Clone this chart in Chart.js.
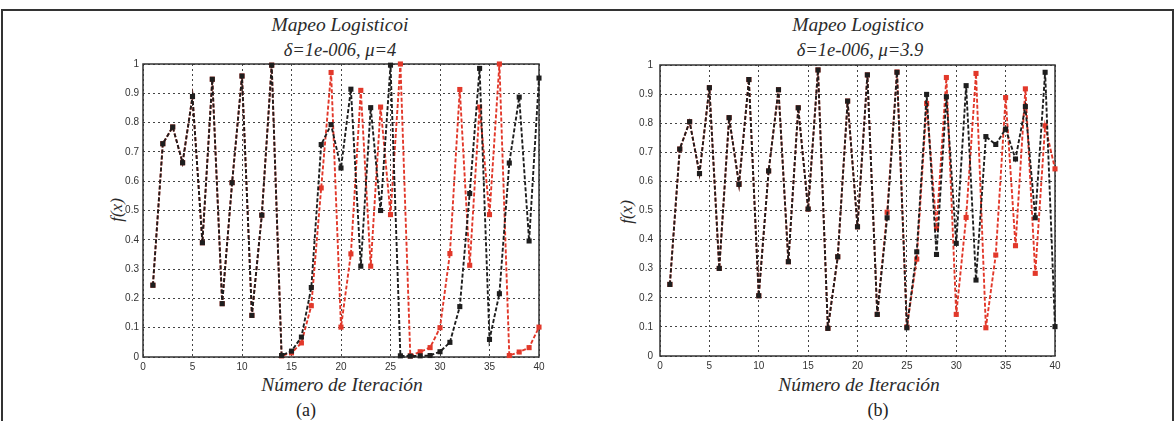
<!DOCTYPE html>
<html>
<head>
<meta charset="utf-8">
<script src="https://cdn.jsdelivr.net/npm/chart.js@4/dist/chart.umd.min.js"></script>
<style>
  html, body { margin: 0; padding: 0; background: #fff; }
  body { width: 1175px; height: 421px; position: relative; overflow: hidden; }
  .frame { position: absolute; left: 1px; top: 9px; width: 1169px; height: 410px; border: 2px solid #333; border-bottom-width: 1px; }
  .panel { position: absolute; top: 50px; width: 460px; height: 340px; }
  .txt { position: absolute; transform: translate(-50%, -50%); white-space: nowrap; color: #2b2b2b;
         font-family: 'Liberation Serif', 'DejaVu Serif', serif; }
  .ttl { font-style: italic; font-size: 19.5px; }
  .sub { font-style: italic; font-size: 18.5px; }
  .ylab { font-style: italic; font-size: 17px; transform: translate(-50%, -50%) rotate(-90deg); }
  .xlab { font-style: italic; font-size: 19.5px; }
  .tag { font-size: 18px; color: #222; }
</style>
</head>
<body>
<div class="frame"></div>

<div class="txt ttl" style="left:340px;top:25px">Mapeo Logisticoi</div>
<div class="txt sub" style="left:340px;top:50px">δ=1e-006, μ=4</div>
<div class="txt ttl" style="left:858px;top:25px">Mapeo Logistico</div>
<div class="txt sub" style="left:860px;top:50px">δ=1e-006, μ=3.9</div>

<div class="txt ylab" style="left:117px;top:210px">f(x)</div>
<div class="txt ylab" style="left:627px;top:212px">f(x)</div>

<div class="txt xlab" style="left:342px;top:385px">Número de Iteración</div>
<div class="txt xlab" style="left:859px;top:385px">Número de Iteración</div>
<div class="txt tag" style="left:306px;top:410px">(a)</div>
<div class="txt tag" style="left:878px;top:410px">(b)</div>

<div class="panel" style="left:100px"><canvas id="chart-a"></canvas></div>
<div class="panel" style="left:617px"><canvas id="chart-b"></canvas></div>

<script>
// ── Data ─────────────────────────────────────
const iterations = [1, 2, 3, 4, 5, 6, 7, 8, 9, 10, 11, 12, 13, 14, 15, 16, 17, 18, 19, 20,
                    21, 22, 23, 24, 25, 26, 27, 28, 29, 30, 31, 32, 33, 34, 35, 36, 37, 38, 39, 40];
const xTicks = [0, 5, 10, 15, 20, 25, 30, 35, 40];
const yTicks = [0, 0.1, 0.2, 0.3, 0.4, 0.5, 0.6, 0.7, 0.8, 0.9, 1];

// mu = 4
const mu4Black = [0.245, 0.728, 0.785, 0.663, 0.889, 0.39, 0.948, 0.182, 0.595, 0.959,
                  0.142, 0.484, 0.996, 0.005, 0.02, 0.068, 0.237, 0.725, 0.793, 0.645,
                  0.914, 0.31, 0.851, 0.50, 0.996, 0.004, 0.003, 0.004, 0.005, 0.018,
                  0.05, 0.172, 0.558, 0.985, 0.06, 0.216, 0.662, 0.887, 0.396, 0.952];
const mu4Red   = [0.245, 0.728, 0.785, 0.663, 0.889, 0.39, 0.948, 0.182, 0.595, 0.959,
                  0.142, 0.484, 0.996, 0.004, 0.014, 0.048, 0.175, 0.577, 0.971, 0.102,
                  0.352, 0.91, 0.31, 0.853, 0.486, 1.0, 0.004, 0.018, 0.032, 0.1,
                  0.353, 0.913, 0.313, 0.853, 0.486, 1.0, 0.005, 0.017, 0.032, 0.102];

// mu = 3.9
const mu39Black = [0.246, 0.711, 0.805, 0.627, 0.922, 0.301, 0.819, 0.59, 0.95, 0.207,
                   0.636, 0.915, 0.324, 0.853, 0.505, 0.983, 0.095, 0.341, 0.876, 0.444,
                   0.966, 0.143, 0.475, 0.975, 0.097, 0.358, 0.899, 0.349, 0.891, 0.387,
                   0.929, 0.261, 0.754, 0.727, 0.78, 0.677, 0.857, 0.475, 0.975, 0.101];
const mu39Red   = [0.246, 0.711, 0.805, 0.627, 0.922, 0.301, 0.819, 0.59, 0.95, 0.207,
                   0.636, 0.915, 0.324, 0.853, 0.505, 0.983, 0.095, 0.341, 0.876, 0.444,
                   0.966, 0.143, 0.494, 0.976, 0.1, 0.333, 0.868, 0.439, 0.957, 0.143,
                   0.476, 0.971, 0.097, 0.347, 0.888, 0.379, 0.918, 0.284, 0.791, 0.643];

const BLACK = '#1e1e1e';
const RED   = '#e2382a';

// ── Plot box (solid frame round the chart area) ──
const boxPlugin = {
  id: 'box',
  beforeDatasetsDraw(chart) {
    const a = chart.chartArea;
    const ctx = chart.ctx;
    ctx.save();
    ctx.strokeStyle = '#333';
    ctx.lineWidth = 1.5;
    ctx.strokeRect(a.left, a.top, a.right - a.left, a.bottom - a.top);
    ctx.restore();
  }
};

const series = (ys, color) => ({
  data: iterations.map((x, i) => ({ x, y: ys[i] })),
  borderColor: color,
  backgroundColor: color,
  borderWidth: 1.9,
  borderDash: [4, 2],
  pointStyle: 'rect',
  pointRadius: 3.6,
  pointHoverRadius: 3.6,
  pointBorderWidth: 0,
  tension: 0,
  clip: 8
});

function makeChart(id, black, red, pad) {
  return new Chart(document.getElementById(id), {
    type: 'line',
    data: {
      // first dataset is painted last, so black ends up on top
      datasets: [series(black, BLACK), series(red, RED)]
    },
    plugins: [boxPlugin],
    options: {
      responsive: true,
      maintainAspectRatio: false,
      animation: false,
      layout: { padding: { left: 0, right: pad.right, top: pad.top, bottom: 0 } },
      plugins: { legend: { display: false }, tooltip: { enabled: false } },
      scales: {
        x: {
          type: 'linear', min: 0, max: 40,
          afterBuildTicks: s => { s.ticks = xTicks.map(v => ({ value: v })); },
          afterFit: s => { s.height = pad.bottom; },
          grid: { color: '#444', lineWidth: 1, drawTicks: false },
          border: { display: false, dash: [2, 3] },
          ticks: { color: '#333', padding: 4, font: { family: 'Liberation Sans', size: 10 } }
        },
        y: {
          min: 0, max: 1,
          afterBuildTicks: s => { s.ticks = yTicks.map(v => ({ value: v })); },
          afterFit: s => { s.width = 43; },
          grid: { color: '#444', lineWidth: 1, drawTicks: false },
          border: { display: false, dash: [2, 3] },
          ticks: {
            color: '#333', padding: pad.tick, font: { family: 'Liberation Sans', size: 10 },
            callback: v => (v === 0 || v === 1) ? String(v) : v.toFixed(1)
          }
        }
      }
    }
  });
}

makeChart('chart-a', mu4Black, mu4Red, { top: 14, right: 21, bottom: 33, tick: 4 });
makeChart('chart-b', mu39Black, mu39Red, { top: 15, right: 22, bottom: 34, tick: 7 });
</script>
</body>
</html>
